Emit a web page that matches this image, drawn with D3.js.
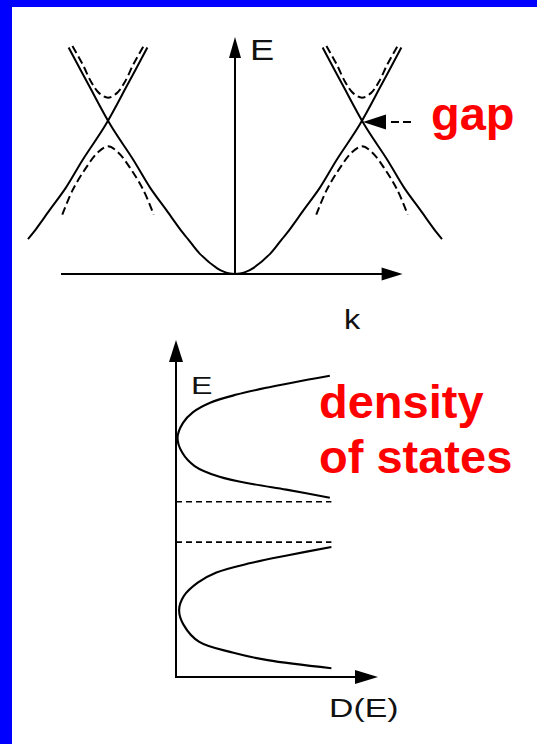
<!DOCTYPE html>
<html>
<head>
<meta charset="utf-8">
<script src="https://cdn.jsdelivr.net/npm/d3@7"></script>
<style>
  html, body { margin: 0; padding: 0; background: #fff; }
  svg { display: block; }
  .diagram-label { font-family: "Liberation Sans", Arial, sans-serif; fill: #111; }
  .slide-label { font-family: "Liberation Sans", Arial, sans-serif; font-weight: bold; fill: #ff0000; }
</style>
</head>
<body>
<svg id="chart"></svg>
<script>
// Free electron band E(k) for k >= 0 (k in units of pi/a, E in units of E at the zone boundary)
const freeBand = [
    [0, 0], [0.04, 0.003], [0.08, 0.012], [0.14, 0.037], [0.28, 0.136], [0.37, 0.23], [0.41, 0.27],
    [0.54, 0.42], [0.67, 0.57], [0.80, 0.75], [0.98, 0.98], [1.15, 1.24], [1.31, 1.49]
];
const G = 2;              // reciprocal lattice vector (pi/a units)
const shiftedFrom = 0.37; // the folded branch is only drawn down to here

// Bands with the gap opened, around the zone boundary k = +1 (mirrored for k = -1)
const upperGapBand = [
    [0.72, 1.50], [0.80, 1.38], [0.87, 1.26], [0.93, 1.19], [1.00, 1.16],
    [1.07, 1.19], [1.13, 1.26], [1.20, 1.38], [1.28, 1.50]
];
const lowerGapBand = [
    [0.64, 0.39], [0.72, 0.55], [0.82, 0.69], [0.92, 0.80], [1.00, 0.84],
    [1.08, 0.80], [1.18, 0.69], [1.28, 0.55], [1.36, 0.39]
];

// Density of states, [D, E]
const dosUpperBand = [
    [0.99, 4.47], [0.82, 4.40], [0.60, 4.30], [0.39, 4.19], [0.22, 4.07], [0.11, 3.93],
    [0.045, 3.77], [0.01, 3.55], [0.04, 3.33], [0.12, 3.13], [0.28, 2.97], [0.50, 2.86],
    [0.71, 2.78], [0.99, 2.66]
];
const dosLowerBand = [
    [1.00, 1.93], [0.73, 1.81], [0.48, 1.69], [0.26, 1.55], [0.14, 1.40], [0.05, 1.20],
    [0.02, 0.99], [0.05, 0.77], [0.15, 0.52], [0.37, 0.36], [0.59, 0.25], [1.00, 0.13]
];
const gapEdges = [2.00, 2.60];
const gapEdgeLength = 1.0;

const axisLabels = { e: 'E', k: 'k', dosE: 'E', dos: 'D(E)' };
const noteLabels = { gap: 'gap', dos: ['density', 'of states'] };

const config = {
    width: 537,
    height: 744,
    kAxisExtent: [-1.37, 1.32],
    eAxisTop: 1.56,
    dosDMax: 1.3,
    dosEMax: 5
};

const svg = d3.select('#chart')
    .attr('width', config.width)
    .attr('height', config.height);

// slide frame
svg.append('rect').attr('x', 0).attr('y', 0).attr('width', config.width).attr('height', config.height).attr('fill', '#fff');
svg.append('rect').attr('x', 0).attr('y', 0).attr('width', config.width).attr('height', 7).attr('fill', '#0000ff');
svg.append('rect').attr('x', 0).attr('y', 0).attr('width', 12).attr('height', config.height).attr('fill', '#0000ff');

function arrowHead(g, tipX, tipY, dir, len, half) {
    // dir: 'up', 'right', 'left'
    let pts;
    if (dir === 'up') pts = [[tipX, tipY], [tipX - half, tipY + len], [tipX + half, tipY + len]];
    else if (dir === 'right') pts = [[tipX, tipY], [tipX - len, tipY - half], [tipX - len, tipY + half]];
    else pts = [[tipX, tipY], [tipX + len, tipY - half], [tipX + len, tipY + half]];
    g.append('path')
        .attr('d', 'M' + pts.map(p => p.join(',')).join('L') + 'Z')
        .attr('fill', '#000');
}

// ---------- top panel: E(k) ----------
const kScale = d3.scaleLinear().domain([-1, 1]).range([108, 362]);
const eScale = d3.scaleLinear().domain([0, 1]).range([274, 122]);

const bandLine = d3.line()
    .x(d => kScale(d[0]))
    .y(d => eScale(d[1]))
    .curve(d3.curveCatmullRom.alpha(0.5));

const mirror = pts => pts.map(d => [-d[0], d[1]]).reverse();

const centralBand = mirror(freeBand).concat(freeBand.slice(1));
const foldedRight = freeBand.filter(d => d[0] >= shiftedFrom).map(d => [G - d[0], d[1]]);
const foldedLeft = mirror(foldedRight);

const topPanel = svg.append('g').attr('class', 'top-panel');

// axes
topPanel.append('line')
    .attr('x1', kScale(config.kAxisExtent[0])).attr('x2', kScale(config.kAxisExtent[1]) - 10)
    .attr('y1', eScale(0)).attr('y2', eScale(0))
    .attr('stroke', '#000').attr('stroke-width', 2);
arrowHead(topPanel, kScale(config.kAxisExtent[1]), eScale(0), 'right', 21, 6.5);

topPanel.append('line')
    .attr('x1', kScale(0)).attr('x2', kScale(0))
    .attr('y1', eScale(0)).attr('y2', eScale(config.eAxisTop) + 10)
    .attr('stroke', '#000').attr('stroke-width', 2);
arrowHead(topPanel, kScale(0), eScale(config.eAxisTop), 'up', 21, 6);

// solid free-electron parabolas
[centralBand, foldedRight, foldedLeft].forEach(pts => {
    topPanel.append('path')
        .attr('d', bandLine(pts))
        .attr('fill', 'none')
        .attr('stroke', '#000')
        .attr('stroke-width', 2);
});

// dashed bands with the gap
[upperGapBand, lowerGapBand, mirror(upperGapBand), mirror(lowerGapBand)].forEach(pts => {
    topPanel.append('path')
        .attr('d', bandLine(pts))
        .attr('fill', 'none')
        .attr('stroke', '#000')
        .attr('stroke-width', 2)
        .attr('stroke-dasharray', '8,4');
});

// gap pointer
const gapX = kScale(1), gapY = eScale(1);
arrowHead(topPanel, gapX + 1, gapY, 'left', 23, 7.5);
topPanel.append('line')
    .attr('x1', gapX + 29).attr('x2', gapX + 50)
    .attr('y1', gapY).attr('y2', gapY)
    .attr('stroke', '#000').attr('stroke-width', 1.8)
    .attr('stroke-dasharray', '8,4');

topPanel.append('text')
    .attr('class', 'diagram-label')
    .attr('transform', 'translate(250,60) scale(1.25,1)')
    .style('font-size', '29px')
    .text(axisLabels.e);

topPanel.append('text')
    .attr('class', 'diagram-label')
    .attr('transform', 'translate(344,329) scale(1.2,1)')
    .style('font-size', '27px')
    .text(axisLabels.k);

topPanel.append('text')
    .attr('class', 'slide-label')
    .attr('x', 431).attr('y', 130)
    .style('font-size', '47px')
    .text(noteLabels.gap);

// ---------- bottom panel: density of states ----------
const dScale = d3.scaleLinear().domain([0, config.dosDMax]).range([176, 378]);
const dosEScale = d3.scaleLinear().domain([0, config.dosEMax]).range([677, 340]);

const dosLine = d3.line()
    .x(d => dScale(d[0]))
    .y(d => dosEScale(d[1]))
    .curve(d3.curveCatmullRom.alpha(0.5));

const dosPanel = svg.append('g').attr('class', 'dos-panel');

dosPanel.append('line')
    .attr('x1', dScale(0)).attr('x2', dScale(0))
    .attr('y1', dosEScale(0)).attr('y2', dosEScale(config.dosEMax) + 10)
    .attr('stroke', '#000').attr('stroke-width', 2);
arrowHead(dosPanel, dScale(0), dosEScale(config.dosEMax), 'up', 22, 7);

dosPanel.append('line')
    .attr('x1', dScale(0) - 1).attr('x2', dScale(config.dosDMax) - 10)
    .attr('y1', dosEScale(0)).attr('y2', dosEScale(0))
    .attr('stroke', '#000').attr('stroke-width', 2);
arrowHead(dosPanel, dScale(config.dosDMax), dosEScale(0), 'right', 23, 7);

dosPanel.selectAll('.gap-edge')
    .data(gapEdges)
    .join('line')
    .attr('class', 'gap-edge')
    .attr('x1', dScale(0)).attr('x2', dScale(gapEdgeLength))
    .attr('y1', d => dosEScale(d)).attr('y2', d => dosEScale(d))
    .attr('stroke', '#000').attr('stroke-width', 1.7)
    .attr('stroke-dasharray', '6,4');

[dosUpperBand, dosLowerBand].forEach(pts => {
    dosPanel.append('path')
        .attr('d', dosLine(pts))
        .attr('fill', 'none')
        .attr('stroke', '#000')
        .attr('stroke-width', 2.1);
});

dosPanel.append('text')
    .attr('class', 'diagram-label')
    .attr('transform', 'translate(191,394) scale(1.4,1)')
    .style('font-size', '23px')
    .text(axisLabels.dosE);

dosPanel.append('text')
    .attr('class', 'diagram-label')
    .attr('transform', 'translate(329,717) scale(1.3,1)')
    .style('font-size', '26px')
    .text(axisLabels.dos);

dosPanel.selectAll('.dos-note')
    .data(noteLabels.dos)
    .join('text')
    .attr('class', 'slide-label dos-note')
    .attr('x', 319)
    .attr('y', (d, i) => 418 + i * 55)
    .style('font-size', '47px')
    .text(d => d);
</script>
</body>
</html>
